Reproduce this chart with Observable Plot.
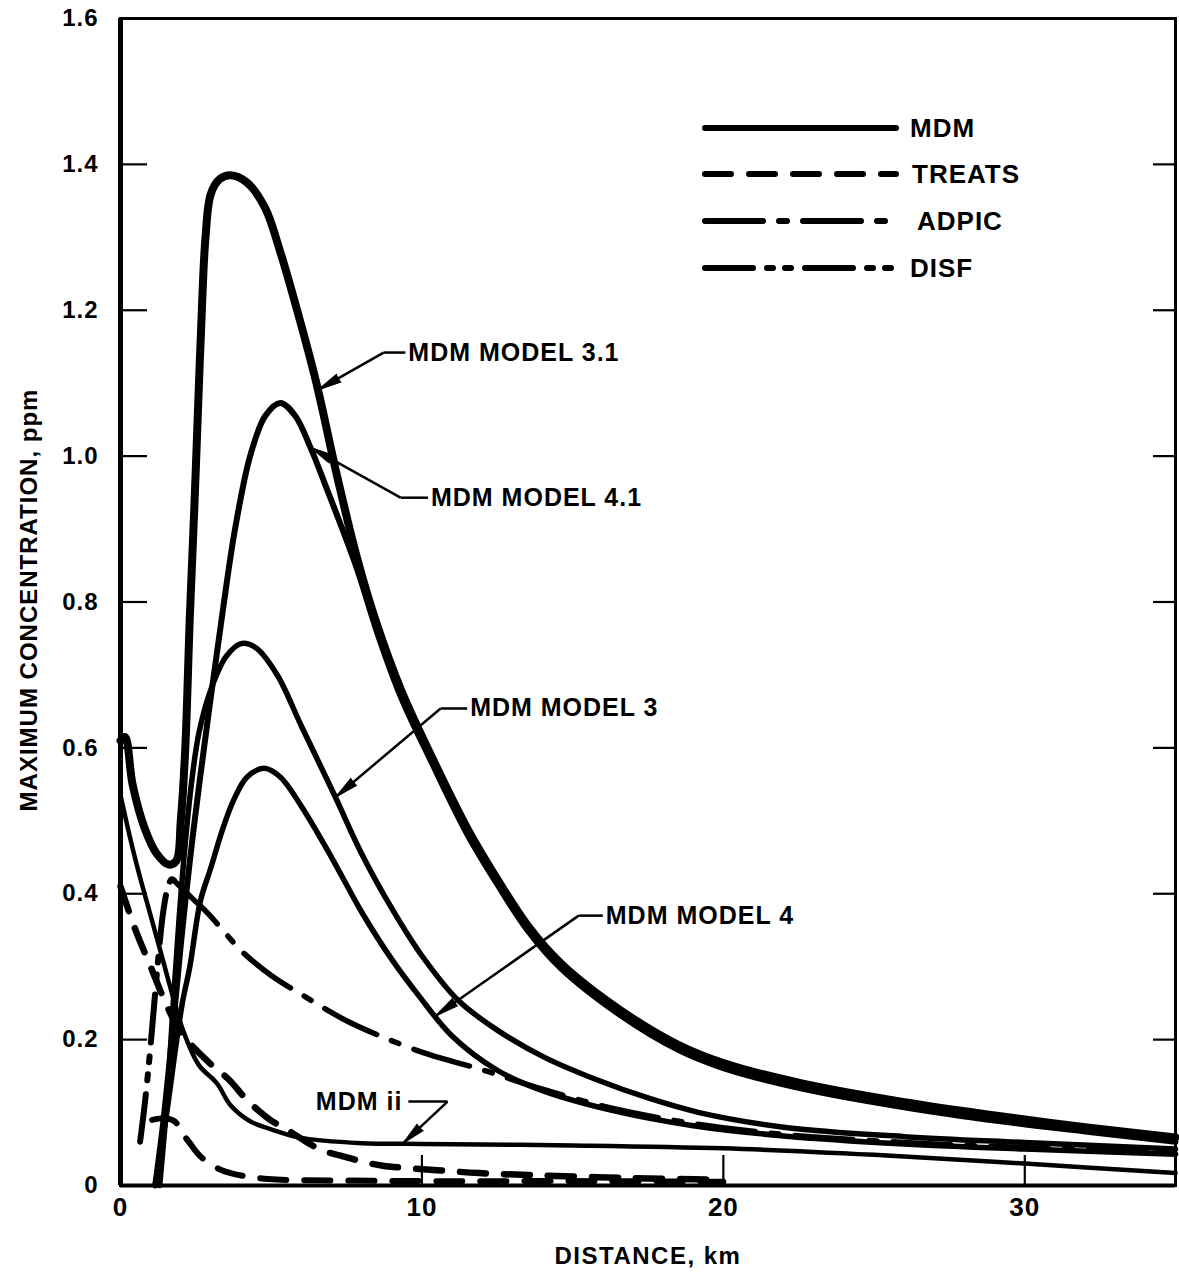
<!DOCTYPE html>
<html><head><meta charset="utf-8">
<script src="https://cdn.jsdelivr.net/npm/d3@7"></script>
<script src="https://cdn.jsdelivr.net/npm/@observablehq/plot@0.6"></script>
<style>
body{margin:0;background:#fff;}
#chart{position:relative;width:1179px;height:1274px;}
#chart svg{font-family:"Liberation Sans",Arial,sans-serif;}
#chart svg text{letter-spacing:1px;}
#overlay{position:absolute;left:0;top:0;pointer-events:none;}
</style></head><body><div id="chart"></div>
<script>
// ---- tick values ----
const xTicks = [0, 10, 20, 30];
const yTicks = [0, 0.2, 0.4, 0.6, 0.8, 1.0, 1.2, 1.4, 1.6];
const xInnerTicks = [10, 20, 30];
const yInnerTicks = [0.2, 0.4, 0.6, 0.8, 1.0, 1.2, 1.4];

// ---- series: [distance km, max concentration ppm] ----
const mdm31 = [[0,0.61],[0.15,0.615],[0.4,0.55],[0.8,0.49],[1.2,0.455],[1.6,0.44],[1.85,0.445],[2.0,0.5],[2.15,0.6],[2.3,0.78],[2.45,0.93],[2.55,1.04],[2.67,1.17],[2.82,1.3],[3.0,1.36],[3.3,1.38],[3.65,1.385],[4.2,1.375],[4.8,1.34],[5.3,1.28],[5.86,1.2],[6.5,1.1],[7.2,0.97],[7.85,0.86],[8.5,0.77],[9.3,0.68],[10.3,0.59],[11.5,0.49],[12.5,0.42],[13.5,0.357],[14.6,0.305],[16.6,0.24],[18.5,0.193],[20,0.168],[22.6,0.14],[25.9,0.115],[29.2,0.095],[32,0.08],[35,0.066]];
const mdm41 = [[1.15,0],[1.4,0.08],[1.7,0.2],[2.0,0.33],[2.4,0.48],[2.9,0.64],[3.4,0.79],[3.8,0.9],[4.3,1.0],[4.8,1.055],[5.3,1.073],[5.8,1.055],[6.3,1.012],[6.8,0.96],[7.85,0.845],[8.5,0.76],[9.3,0.67],[10.3,0.582],[11.5,0.482],[12.5,0.413],[13.5,0.35],[14.6,0.298],[16.6,0.233],[18.5,0.186],[20,0.161],[22.6,0.133],[25.9,0.108],[29.2,0.088],[32,0.074],[35,0.06]];
const mdm3 = [[1.3,0],[1.55,0.12],[1.75,0.25],[1.95,0.37],[2.15,0.47],[2.35,0.55],[2.6,0.62],[3.0,0.68],[3.5,0.725],[4.0,0.743],[4.5,0.737],[5.2,0.7],[6.0,0.63],[7.1,0.535],[8.0,0.455],[9.0,0.38],[10.0,0.315],[11.2,0.254],[12.5,0.213],[14.1,0.175],[15.8,0.145],[17.5,0.12],[19.2,0.1],[22,0.08],[26,0.067],[30,0.059],[35,0.05]];
const mdm4 = [[1.15,0],[1.5,0.09],[1.8,0.18],[2.05,0.25],[2.3,0.3],[2.65,0.39],[3.0,0.436],[3.4,0.49],[3.75,0.528],[4.2,0.56],[4.77,0.572],[5.3,0.56],[6.0,0.52],[7.0,0.45],[8.0,0.375],[9.0,0.31],[9.9,0.26],[11,0.205],[12.5,0.158],[14,0.13],[16.3,0.103],[19,0.082],[22,0.068],[26,0.057],[30,0.05],[35,0.043]];
const mdmii = [[0,0.535],[0.3,0.48],[0.6,0.43],[1.0,0.37],[1.4,0.31],[1.8,0.25],[2.1,0.21],[2.6,0.165],[3.2,0.14],[3.65,0.11],[4.3,0.088],[5.0,0.077],[5.9,0.066],[8,0.058],[10,0.057],[15,0.055],[20,0.051],[25,0.042],[30,0.03],[35,0.017]];
const treats1 = [[0,0.41],[0.5,0.35],[1.0,0.3],[1.5,0.25],[2.0,0.21],[2.9,0.17],[3.6,0.145],[4.2,0.117],[5.0,0.089],[5.4,0.08],[6.0,0.064],[6.7,0.048],[7.3,0.041],[8.0,0.033],[8.7,0.027],[9.5,0.024],[10.5,0.021],[11.9,0.017],[13.8,0.014],[17,0.01],[20,0.008]];
const treats2 = [[1.05,0.09],[1.5,0.092],[1.8,0.088],[2.0,0.075],[2.3,0.058],[2.65,0.04],[3.2,0.024],[3.75,0.016],[4.9,0.009],[7,0.007],[10,0.006],[15,0.006],[20,0.005]];
const adpic = [[1.85,0.415],[2.1,0.405],[2.4,0.393],[2.9,0.373],[3.5,0.345],[4.0,0.322],[5.0,0.288],[6.0,0.262],[7.4,0.228],[8.5,0.207],[10.2,0.18],[11.9,0.16],[12.5,0.152],[14,0.132],[16.3,0.106],[19,0.085],[22,0.07],[26,0.059],[30,0.052],[35,0.045]];
const disf = [[0.65,0.06],[0.8,0.11],[0.95,0.17],[1.1,0.24],[1.25,0.31],[1.4,0.37],[1.55,0.405],[1.7,0.42],[1.85,0.415]];

// ---- legend entries ----
const legendNames = ["MDM", "TREATS", "ADPIC", "DISF"];

// ---- style table ----
const dash = {MDM: null, TREATS: "26,18", ADPIC: "58,16,8,16", DISF: "48,14,6,12,6,14"};
const series = [
  {pts: mdm31, model: "MDM", w: 8},
  {pts: mdm41, model: "MDM", w: 6},
  {pts: mdm3, model: "MDM", w: 5.5},
  {pts: mdm4, model: "MDM", w: 5.5},
  {pts: mdmii, model: "MDM", w: 4.5},
  {pts: treats1, model: "TREATS", w: 6.5},
  {pts: treats2, model: "TREATS", w: 6},
  {pts: adpic, model: "ADPIC", w: 5.5},
  {pts: disf, model: "DISF", w: 6}
];

const W = 1179, H = 1274, mL = 120, mR = 4, mT = 18, mB = 89;
const innerW = W - mL - mR, innerH = H - mT - mB;
const kx = innerW / 35, ky = innerH / 1.6;

function interp(pts, x) {
  for (let i = 1; i < pts.length; i++) {
    if (x <= pts[i][0]) {
      const [x0, y0] = pts[i-1], [x1, y1] = pts[i];
      return y0 + (y1 - y0) * (x - x0) / (x1 - x0);
    }
  }
  return pts[pts.length-1][1];
}

// annotation table (label anchor in data units, tip on the curve)
const notes = [
  {text: "MDM MODEL 3.1", pts: mdm31, tipX: 6.55, elbowX: 8.73, labelX: 9.45, labelY: 1.142, anchor: "start"},
  {text: "MDM MODEL 4.1", pts: mdm41, tipX: 6.3, elbowX: 9.29, labelX: 10.2, labelY: 0.943, anchor: "start"},
  {text: "MDM MODEL 3", pts: mdm3, tipX: 7.13, elbowX: 10.62, labelX: 11.5, labelY: 0.654, anchor: "start"},
  {text: "MDM MODEL 4", pts: mdm4, tipX: 10.45, elbowX: 15.2, labelX: 16.0, labelY: 0.37, anchor: "start"},
  {text: "MDM ii", pts: mdmii, tipX: 9.36, elbowX: 10.85, labelX: 9.55, labelY: 0.115, anchor: "end"}
].map(d => {
  const tipY = interp(d.pts, d.tipX);
  const dxp = (d.tipX - d.elbowX) * kx, dyp = (d.labelY - tipY) * ky;
  return {...d, tipY, rot: Math.atan2(dxp, -dyp) * 180 / Math.PI};
});

const marks = [
  Plot.axisX({ticks: xTicks, anchor: "bottom", tickSize: 0, tickPadding: 12, fontSize: 26, fontWeight: "bold", label: null}),
  Plot.axisY({ticks: yTicks, anchor: "left", tickSize: 0, tickPadding: 22, fontSize: 24, fontWeight: "bold", label: null,
              tickFormat: d => d === 0 ? "0" : d.toFixed(1)}),
  Plot.tickY(yInnerTicks, {y: d => d, insetRight: innerW - 27, strokeWidth: 2.2}),
  Plot.tickY(yInnerTicks, {y: d => d, insetLeft: innerW - 22, strokeWidth: 2.2}),
  Plot.tickX(xInnerTicks, {x: d => d, insetTop: innerH - 30, strokeWidth: 2.2})
];
for (const s of series) {
  marks.push(Plot.line(s.pts, {x: d => d[0], y: d => d[1], stroke: "black", strokeWidth: s.w,
    strokeDasharray: dash[s.model], curve: "catmull-rom", strokeLinecap: "round", strokeLinejoin: "round"}));
}
marks.push(
  Plot.frame({stroke: "black", strokeWidth: 3}),
  Plot.ruleX([0], {strokeWidth: 5}),
  Plot.ruleY([0], {strokeWidth: 4}),
  Plot.link(notes, {x1: "elbowX", y1: "labelY", x2: "labelX", y2: "labelY", strokeWidth: 2.5}),
  Plot.link(notes, {x1: "elbowX", y1: "labelY", x2: "tipX", y2: "tipY", strokeWidth: 2.5}),
  Plot.vector(notes, {x: "tipX", y: "tipY", rotate: "rot", length: 24, r: 4.5, shape: "spike", anchor: "end", fill: "black", stroke: "black", strokeWidth: 1}),
  Plot.text(notes.filter(d => d.anchor === "start"), {x: "labelX", y: "labelY", text: "text", textAnchor: "start", dx: 3, fontSize: 25, fontWeight: "bold"}),
  Plot.text(notes.filter(d => d.anchor === "end"), {x: "labelX", y: "labelY", text: "text", textAnchor: "end", dx: -6, fontSize: 25, fontWeight: "bold"})
);

const chart = Plot.plot({
  width: W, height: H, marginLeft: mL, marginRight: mR, marginTop: mT, marginBottom: mB,
  x: {domain: [0, 35]}, y: {domain: [0, 1.6]},
  style: {background: "white", color: "black", overflow: "visible"},
  marks
});
const root = document.getElementById("chart");
root.appendChild(chart);

// ---- overlay: legend and axis titles ----
const ov = d3.select(root).append("svg").attr("id", "overlay").attr("width", W).attr("height", H)
  .style("font-family", '"Liberation Sans",Arial,sans-serif');
const legY = [128, 174, 221, 268];
const legTx = [910, 912, 917, 910];
legendNames.forEach((name, i) => {
  ov.append("line").attr("x1", 705).attr("x2", 896).attr("y1", legY[i]).attr("y2", legY[i])
    .attr("stroke", "black").attr("stroke-width", 6).attr("stroke-linecap", "round")
    .attr("stroke-dasharray", dash[name]);
  ov.append("text").attr("x", legTx[i]).attr("y", legY[i]).attr("dy", "0.36em")
    .attr("font-size", 26).attr("font-weight", "bold").style("letter-spacing", "1px").text(name);
});
ov.append("text").attr("x", 648).attr("y", 1255).attr("dy", "0.36em").attr("text-anchor", "middle")
  .attr("font-size", 24).attr("font-weight", "bold").style("letter-spacing", "1.5px").text("DISTANCE, km");
ov.append("text").attr("transform", "translate(28,600) rotate(-90)").attr("dy", "0.36em").attr("text-anchor", "middle")
  .attr("font-size", 24).attr("font-weight", "bold").style("letter-spacing", "1px").text("MAXIMUM CONCENTRATION, ppm");
</script></body></html>
